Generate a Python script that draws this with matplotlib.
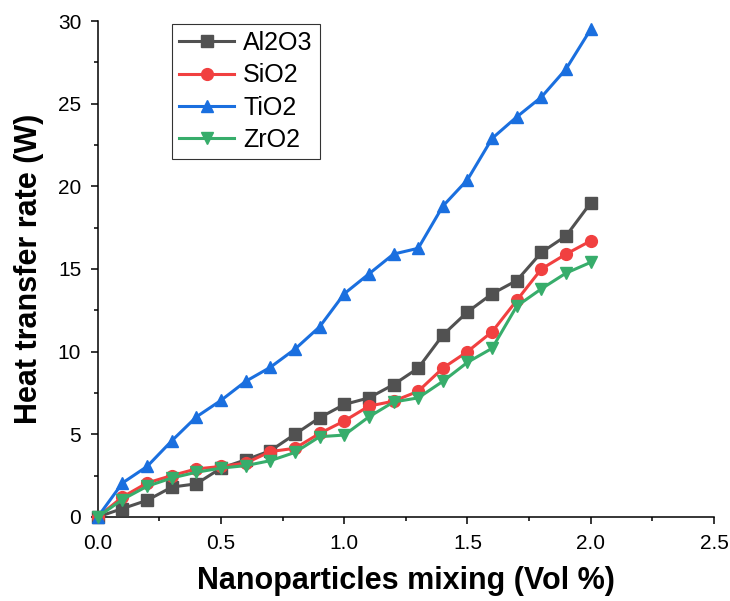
import numpy as np
import matplotlib.pyplot as plt

plt.rcParams['font.family'] = ['Liberation Sans', 'DejaVu Sans']

# data
vol = [0.0, 0.1, 0.2, 0.3, 0.4, 0.5, 0.6, 0.7, 0.8, 0.9, 1.0,
       1.1, 1.2, 1.3, 1.4, 1.5, 1.6, 1.7, 1.8, 1.9, 2.0]
al2o3 = [0.0, 0.5, 1.0, 1.8, 2.0, 2.95, 3.45, 4.0, 5.0, 6.0, 6.8,
         7.2, 8.0, 9.0, 11.0, 12.4, 13.5, 14.3, 16.0, 17.0, 19.0]
sio2 = [0.0, 1.2, 2.05, 2.5, 2.9, 3.05, 3.25, 3.95, 4.15, 5.05, 5.8,
        6.7, 7.0, 7.6, 9.0, 10.0, 11.2, 13.1, 15.0, 15.9, 16.7]
tio2 = [0.0, 2.05, 3.05, 4.6, 6.05, 7.05, 8.2, 9.05, 10.15, 11.5, 13.5,
        14.7, 15.9, 16.25, 18.8, 20.4, 22.9, 24.2, 25.4, 27.1, 29.5]
zro2 = [0.0, 1.05, 1.85, 2.35, 2.7, 2.95, 3.1, 3.4, 3.9, 4.85, 4.95,
        6.05, 6.95, 7.2, 8.2, 9.35, 10.2, 12.75, 13.8, 14.75, 15.4]

series = [("Al2O3", al2o3, "#515151", "s"),
          ("SiO2", sio2, "#F14040", "o"),
          ("TiO2", tio2, "#1A6FDF", "^"),
          ("ZrO2", zro2, "#37AD6B", "v")]

fig = plt.figure(figsize=(7.3, 6.01), dpi=100)
ax = fig.add_axes([0.134, 0.140, 0.844, 0.825])

for name, vals, col, mk in series:
    ax.plot(vol, vals, color=col, marker=mk, markersize=8.5, linewidth=2.2,
            label=name, clip_on=False, zorder=3)

ax.set_xlim(0, 2.5)
ax.set_ylim(0, 30)
ax.set_xticks(np.arange(0, 2.51, 0.5))
ax.set_xticks(np.arange(0.25, 2.5, 0.5), minor=True)
ax.set_yticks(np.arange(0, 31, 5))
ax.set_yticks(np.arange(2.5, 30, 5), minor=True)
ax.xaxis.set_major_formatter(plt.FormatStrFormatter('%.1f'))

ax.spines['top'].set_visible(False)
ax.spines['right'].set_visible(False)
for s in ['left', 'bottom']:
    ax.spines[s].set_linewidth(1.1)
ax.tick_params(which='major', direction='out', length=5, width=1.1,
               labelsize=15, pad=7)
ax.tick_params(which='minor', direction='out', length=3, width=1.1)

ax.set_xlabel("Nanoparticles mixing (Vol %)", fontsize=22, fontweight='bold',
              labelpad=10)
ax.set_ylabel("Heat transfer rate (W)", fontsize=22, fontweight='bold',
              labelpad=10)

leg = ax.legend(loc='upper left', bbox_to_anchor=(0.12, 0.995), fontsize=18,
                frameon=True, fancybox=False, edgecolor='black',
                borderpad=0.3, labelspacing=0.33, handlelength=2.2,
                handletextpad=0.35, borderaxespad=0)
leg.get_frame().set_linewidth(0.8)

plt.savefig("out.png", dpi=100)
